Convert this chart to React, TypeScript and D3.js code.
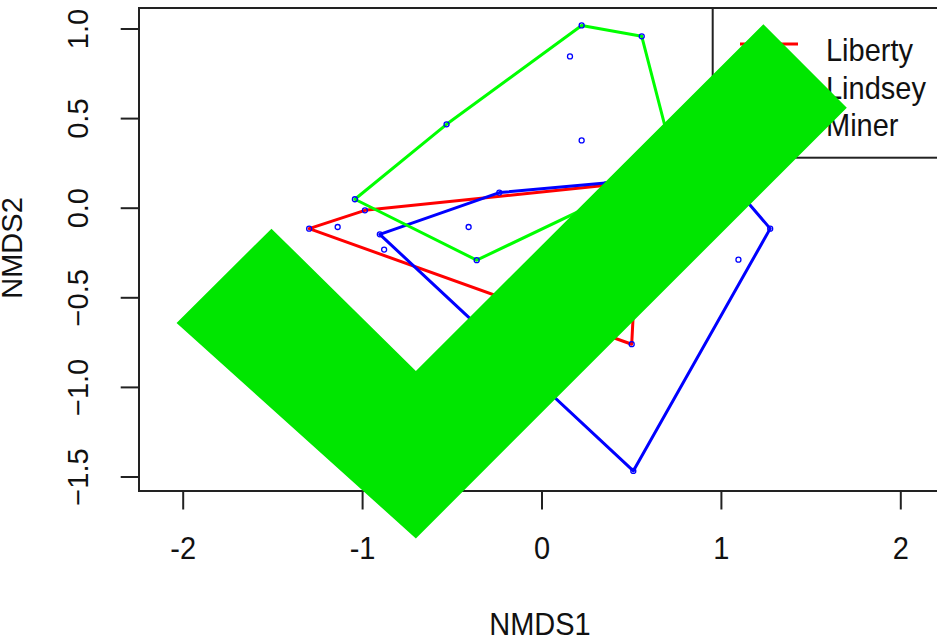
import React from "react";
import * as d3 from "d3";

// NMDS site scores, grouped by site
const libertyPts: [number, number][] = [
  [-1.298, -0.114], [-0.987, -0.012], [0.547, 0.148], [0.5, -0.759],
  [-1.139, -0.105], [-0.88, -0.231], [-0.409, -0.105],
];
const lindseyPts: [number, number][] = [
  [-0.904, -0.146], [-0.238, 0.087], [0.357, 0.133], [1.004, 0.199],
  [1.272, -0.114], [0.509, -1.466], [1.095, -0.287],
];
const minerPts: [number, number][] = [
  [-1.043, 0.05], [-0.532, 0.468], [0.221, 1.02], [0.556, 0.959],
  [0.742, 0.239], [-0.364, -0.29], [0.156, 0.847], [0.221, 0.378],
];

const groups = ["Liberty", "Lindsey", "Miner"];
const groupColors = ["#ff0000", "#0000ff", "#00ff00"];
const groupPts = [libertyPts, lindseyPts, minerPts];

const xTicks = [-2, -1, 0, 1, 2];
const yTicks = [-1.5, -1, -0.5, 0, 0.5, 1];

// the big tick mark stamped over the figure, in plot units
const checkMark: [number, number][] = [
  [-2.037, -0.64], [-1.508, -0.114], [-0.703, -0.908],
  [1.234, 1.026], [1.699, 0.561], [-0.703, -1.843],
];

const font = "'Liberation Sans', Arial, sans-serif";

// horizontal text is drawn a touch taller than wide, like the original
function HText(props: { x: number; y: number; anchor?: string; children: React.ReactNode }) {
  return (
    <text
      transform={`translate(${props.x},${props.y}) scale(1,1.1)`}
      textAnchor={props.anchor || "start"}
      fontSize={29}
      fill="#111"
    >
      {props.children}
    </text>
  );
}

export default function App() {
  const x = d3.scaleLinear().domain([-2, 2]).range([183.2, 900.8]);
  const y = d3.scaleLinear().domain([-1.5, 1]).range([477, 29]);
  const box = { left: 139, top: 8, right: 941, bottom: 491 };

  const hullPath = d3
    .line<[number, number]>()
    .x((d) => x(d[0]))
    .y((d) => y(d[1]))
    .curve(d3.curveLinearClosed);

  return (
    <svg
      width={937}
      height={639}
      style={{ position: "absolute", left: 0, top: 0, background: "#fff" }}
      fontFamily={font}
    >
      <rect width={937} height={639} fill="#fff" />
      {/* hulls */}
      {groupPts.map((pts, i) => {
        const hull = d3.polygonHull(pts) as [number, number][];
        return (
          <path
            key={groups[i]}
            d={hullPath(hull) || ""}
            fill="none"
            stroke={groupColors[i]}
            strokeWidth={3}
            strokeLinejoin="round"
          />
        );
      })}
      {/* site points */}
      {groupPts.flat().map((d, i) => (
        <circle
          key={i}
          cx={x(d[0])}
          cy={y(d[1])}
          r={2.5}
          fill="none"
          stroke="#0000ff"
          strokeWidth={1.3}
        />
      ))}
      {/* plot box */}
      <rect
        x={box.left}
        y={box.top}
        width={box.right - box.left}
        height={box.bottom - box.top}
        fill="none"
        stroke="#222"
        strokeWidth={2}
      />
      {/* x axis */}
      {xTicks.map((t) => (
        <g key={"x" + t}>
          <line x1={x(t)} x2={x(t)} y1={box.bottom} y2={509.5} stroke="#222" strokeWidth={2} />
          <HText x={x(t)} y={559} anchor="middle">
            {t}
          </HText>
        </g>
      ))}
      {/* y axis */}
      {yTicks.map((t) => (
        <g key={"y" + t}>
          <line x1={box.left} x2={120.7} y1={y(t)} y2={y(t)} stroke="#222" strokeWidth={2} />
          <text
            transform={`translate(88,${y(t)}) rotate(-90)`}
            textAnchor="middle"
            fontSize={29}
            fill="#111"
          >
            {d3.format(".1f")(t)}
          </text>
        </g>
      ))}
      <HText x={540} y={635} anchor="middle">
        NMDS1
      </HText>
      <text
        transform="translate(22,248) rotate(-90)"
        textAnchor="middle"
        fontSize={29}
        fill="#111"
      >
        NMDS2
      </text>
      {/* legend */}
      <rect x={712.7} y={box.top} width={260} height={157.7 - box.top} fill="#fff" stroke="#222" strokeWidth={2} />
      {groups.map((g, i) => (
        <g key={g}>
          <line x1={740} x2={798} y1={44 + i * 37.5} y2={44 + i * 37.5} stroke={groupColors[i]} strokeWidth={3} />
          <HText x={826} y={61 + i * 37.5}>
            {g}
          </HText>
        </g>
      ))}
      {/* check mark overlay */}
      <path d={hullPath(checkMark) || ""} fill="#00e600" />
    </svg>
  );
}
